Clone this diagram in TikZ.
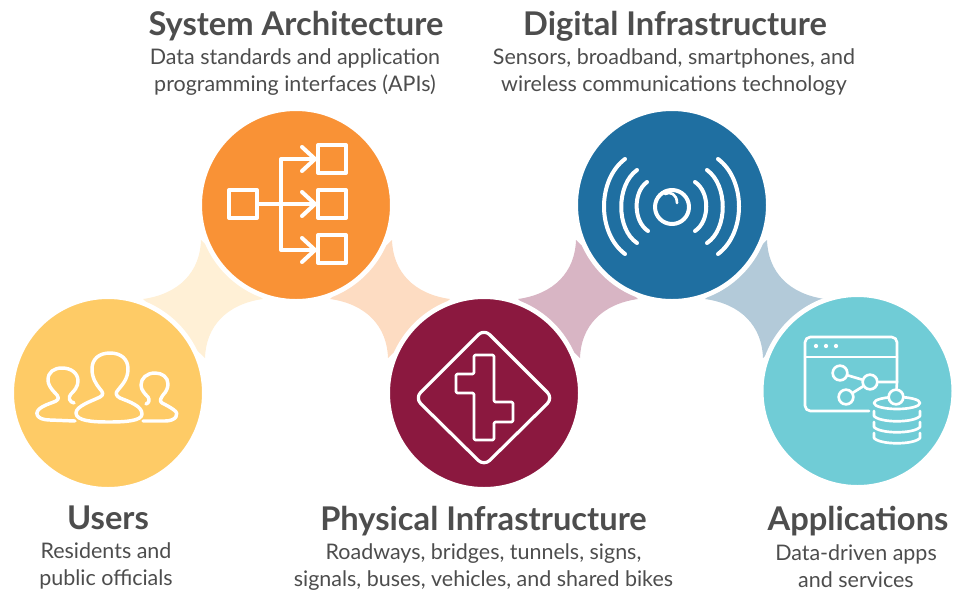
\documentclass[tikz,border=0pt]{standalone}
\usepackage{fontspec}
\setmainfont{Lato}
\definecolor{usercol}{HTML}{FECB66}
\definecolor{syscol}{HTML}{F99236}
\definecolor{physcol}{HTML}{8B183F}
\definecolor{digcol}{HTML}{1F6FA1}
\definecolor{appcol}{HTML}{70CCD6}
\definecolor{txtcol}{HTML}{4D4D4D}
\definecolor{usertint}{HTML}{FFF0D6}
\definecolor{systint}{HTML}{FDDCC2}
\definecolor{phystint}{HTML}{D8B5C4}
\definecolor{digtint}{HTML}{B3CAD9}
\tikzset{
  x=0.75pt, y=-0.75pt,
  disc/.style={
    circle,
    draw=white,
    line width=3.6pt,
    minimum size=144.6pt,
    inner sep=0pt
  },
  icon/.style={draw=white, line width=3pt, line join=round, line cap=round},
  thinicon/.style={draw=white, line width=2pt, line join=round, line cap=round},
  hub/.style={circle, draw=white, line width=2pt, minimum size=11pt, inner sep=0pt},
  windot/.style={circle, fill=white, minimum size=3.2pt, inner sep=0pt},
  heading/.style={text=txtcol, font=\fontsize{24.5}{28}\selectfont\bfseries, inner sep=0pt},
  blurb/.style={text=txtcol, align=center, font=\fontsize{16.1}{20.2}\selectfont, inner sep=0pt}
}
\def\starA#1#2#3{\fill[#3] (#1-60,#2) .. controls (#1-24,#2-5) and (#1-3,#2-27) .. (#1-2,#2-59) -- (#1+60,#2) .. controls (#1+24,#2+5) and (#1+3,#2+27) .. (#1+2,#2+59) -- cycle;}
\def\starB#1#2#3{\fill[#3] (#1+60,#2) .. controls (#1+24,#2-5) and (#1+3,#2-27) .. (#1+2,#2-59) -- (#1-60,#2) .. controls (#1-24,#2+5) and (#1-3,#2+27) .. (#1-2,#2+59) -- cycle;}
\begin{document}
\begin{tikzpicture}
    \useasboundingbox (0,0) rectangle (967,590);
    % petals
    \starA{203}{299}{usertint}
    \starB{390}{299}{systint}
    \starA{578}{299}{phystint}
    \starB{765}{299}{digtint}
    % discs
    \node[disc, fill=usercol] (users) at (108,393) {};
    \node[disc, fill=syscol] (system) at (296,205) {};
    \node[disc, fill=physcol] (physical) at (484,393) {};
    \node[disc, fill=digcol] (digital) at (672,205) {};
    \node[disc, fill=appcol] (apps) at (857.5,391) {};
    % users icon
    \begin{scope}[line width=2.6pt, draw=white, line cap=round, line join=round]
    \draw (75,421) -- (50,420) .. controls (36,420) and (33,412) .. (42,407) .. controls (47,404) and (52,403) .. (56,401) .. controls (59,399) and (59,397) .. (57,395) .. controls (50,388) and (48,384) .. (48,380) .. controls (48,372) and (54,368) .. (62,368) .. controls (71,368) and (78,373) .. (78,381) .. controls (78,387) and (74,391) .. (71,394) .. controls (68,397) and (69,402) .. (74,403);
    \draw (110,353) .. controls (121,353) and (128,359) .. (128,369) .. controls (128,379) and (122,385) .. (118,390) .. controls (115,393) and (116,396) .. (120,398) .. controls (130,402) and (142,406) .. (142,414) .. controls (142,421) and (125,422) .. (109,422) .. controls (93,422) and (76,421) .. (76,413) .. controls (76,406) and (92,401) .. (100,397) .. controls (104,395) and (103,392) .. (100,389) .. controls (96,384) and (92,378) .. (92,369) .. controls (92,359) and (99,353) .. (110,353) -- cycle;
    \draw (143,421) -- (165,421) .. controls (176,421) and (180,414) .. (174,410) .. controls (170,407) and (166,405) .. (162,403) .. controls (159,401) and (161,398) .. (163,395) .. controls (166,392) and (168,388) .. (168,384) .. controls (168,377) and (162,373) .. (155,373) .. controls (147,373) and (141,378) .. (141,385) .. controls (141,390) and (145,394) .. (148,397) .. controls (150,400) and (149,403) .. (146,404);
    \end{scope}
    % system icon
    \draw[icon] (229,190) rectangle (257,218);
    \draw[icon] (318,145) rectangle (346,173);
    \draw[icon] (318,190) rectangle (346,218);
    \draw[icon] (318,235) rectangle (346,263);
    \draw[icon] (257,204) -- (315,204);
    \draw[icon] (315,159) -- (281,159) -- (281,250) -- (315,250);
    \draw[icon] (302,147) -- (315,159) -- (302,171);
    \draw[icon] (302,192) -- (315,204) -- (302,216);
    \draw[icon] (302,238) -- (315,250) -- (302,262);
    % physical icon
    \draw[thinicon, line width=2.4pt, rounded corners=6pt] (484,329) -- (553,398) -- (484,466) -- (415,398) -- cycle;
    \draw[thinicon, rounded corners=1pt] (474,355) -- (494,355) -- (494,402) -- (513,402) -- (513,422) -- (494,422) -- (494,440) -- (474,440) -- (474,393) -- (456,393) -- (456,374) -- (474,374) -- cycle;
    % digital icon
    \draw[icon] (672,207) circle (17);
    \draw[thinicon] (665,194) .. controls (670,191) and (677,194) .. (677,203);
    \draw[icon] (647,182) .. controls (633,192) and (633,221) .. (648,231);
    \draw[icon] (637,170) .. controls (616,185) and (616,229) .. (637,243);
    \draw[icon] (625,159) .. controls (597,180) and (597,233) .. (625,254);
    \draw[icon] (695,182) .. controls (710,192) and (710,221) .. (695,231);
    \draw[icon] (707,170) .. controls (728,185) and (728,229) .. (707,243);
    \draw[icon] (718,159) .. controls (746,180) and (746,233) .. (718,254);
    % apps icon
    \draw[thinicon, rounded corners=4pt] (869,411) -- (805,411) -- (805,337) -- (897,337) -- (897,382);
    \draw[thinicon] (805,357) -- (897,357);
    \node[windot] (dotA) at (816,346) {};
    \node[windot] (dotB) at (826,346) {};
    \node[windot] (dotC) at (836,346) {};
    \draw[thinicon] (897,403) ellipse (23 and 6);
    \node[hub, fill=appcol] (hubA) at (840,373) {};
    \node[hub, fill=appcol] (hubB) at (870,382) {};
    \node[hub, fill=appcol] (hubC) at (846,397) {};
    \node[hub, fill=appcol] (hubD) at (896,397) {};
    \draw[thinicon] (hubA) -- (hubB);
    \draw[thinicon] (hubC) -- (hubB);
    \draw[thinicon] (hubB) -- (897,382) -- (hubD);
    \draw[thinicon] (874,411) -- (874,416) .. controls (880,423) and (914,423) .. (920,416) -- (920,411);
    \draw[thinicon] (874,422) -- (874,427) .. controls (880,434) and (914,434) .. (920,427) -- (920,422);
    \draw[thinicon] (874,433) -- (874,438) .. controls (880,445) and (914,445) .. (920,438) -- (920,433);
    % labels
    \node[heading] (t1) at (108,518) {Users};
    \node[blurb] (b1) at (106,566) {Residents and\\public officials};
    \node[heading] (t2) at (296,26) {System Architecture};
    \node[blurb] (b2) at (295,72) {Data standards and application\\programming interfaces (APIs)};
    \node[heading] (t3) at (483.5,521) {Physical Infrastructure};
    \node[blurb] (b3) at (483.5,567) {Roadways, bridges, tunnels, signs,\\signals, buses, vehicles, and shared bikes};
    \node[heading] (t4) at (675,26) {Digital Infrastructure};
    \node[blurb] (b4) at (674,72) {Sensors, broadband, smartphones, and\\wireless communications technology};
    \node[heading] (t5) at (858,521) {Applications};
    \node[blurb] (b5) at (856,566) {Data-driven apps\\and services};
\end{tikzpicture}
\end{document}
